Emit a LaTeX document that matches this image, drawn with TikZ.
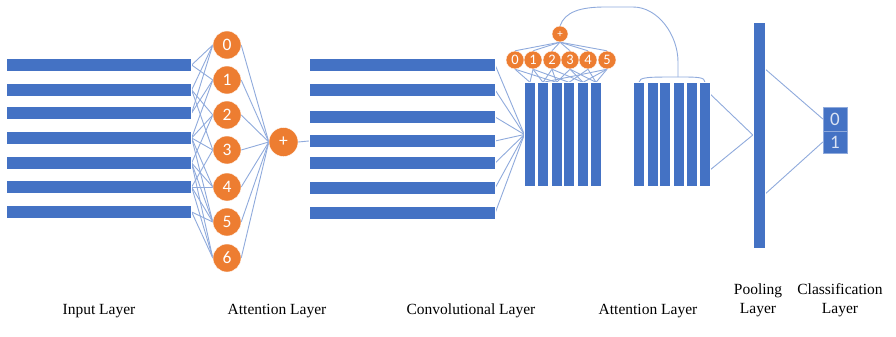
\documentclass[tikz,border=0pt]{standalone}
\usepackage{fontspec}
\setmainfont{Liberation Serif}
\newfontfamily\digitfont{Carlito}
\usetikzlibrary{calc}
\definecolor{barblue}{HTML}{4472C4}
\definecolor{orng}{HTML}{ED7D31}
\definecolor{lnblue}{HTML}{8FAADC}
\definecolor{celltext}{HTML}{DAE3F3}
\pgfdeclarelayer{background}
\pgfsetlayers{background,main}
\begin{document}
\begin{tikzpicture}[x=1pt,y=-1pt,
  hbar/.style={rectangle, fill=barblue, draw=white, line width=0.3pt, minimum width=185pt, minimum height=13pt, inner sep=0pt},
  vbar/.style={rectangle, fill=barblue, draw=white, line width=0.3pt, minimum width=11pt, minimum height=104pt, inner sep=0pt},
  bigc/.style={circle, fill=orng, draw=white, line width=0.4pt, minimum size=28pt, inner sep=0pt, text=white, font=\digitfont\fontsize{17.5}{17.5}\selectfont},
  smallc/.style={circle, fill=orng, draw=white, line width=0.4pt, minimum size=18pt, inner sep=0pt, text=white, font=\digitfont\fontsize{14.5}{14.5}\selectfont},
  cell/.style={rectangle, fill=barblue, draw=lnblue, line width=0.4pt, minimum width=24pt, minimum height=23pt, inner sep=0pt, text=celltext, font=\digitfont\fontsize{19}{19}\selectfont},
  conn/.style={draw=lnblue, line width=0.9pt},
  lbl/.style={font=\fontsize{15.5}{19}\selectfont, align=center, anchor=base},
]
\useasboundingbox (0,0) rectangle (896,337);

% input bars
\foreach \i/\y in {0/65,1/90,2/113,3/138,4/163,5/187,6/212}
  \node[hbar] (in\i) at (99,\y) {};
% attention circles
\foreach \i/\y in {0/45,1/80,2/115,3/150,4/187,5/222,6/258}
  \node[bigc] (at\i) at (227,\y) {\i};
\node[bigc, minimum size=29pt] (plus) at (283.5,142) {+};
% conv bars
\foreach \i/\y in {0/65,1/90,2/117,3/141,4/163,5/188,6/213}
  \node[hbar, minimum width=186pt] (cv\i) at (402,\y) {};
% conv vertical bars
\foreach \i/\x in {0/530,1/543,2/556.5,3/569,4/583,5/596}
  \node[vbar] (va\i) at (\x,134.5) {};
% small attention circles
\foreach \i/\x in {0/515,1/533,2/552,3/570,4/588,5/607}
  \node[smallc] (sc\i) at (\x,60) {\i};
\node[smallc, minimum size=16pt, font=\digitfont\fontsize{11}{11}\selectfont] (sp) at (560,34) {+};
% second attention bars
\foreach \i/\x in {0/639,1/653,2/665,3/679,4/692,5/705}
  \node[vbar] (vb\i) at (\x,134.5) {};
% pooling bar
\node[rectangle, fill=barblue, draw=white, line width=0.3pt, minimum width=12pt, minimum height=226pt, inner sep=0pt] (pool) at (759,135) {};
% classification cells
\node[cell, minimum height=24pt] (cl0) at (835,119) {0};
\node[cell, minimum height=22pt] (cl1) at (835,142) {1};

\coordinate (bt) at (678,77);

\begin{pgfonlayer}{background}
  % input -> attention
  \foreach \b/\c in {0/0,0/1,1/0,1/2,1/3,2/0,2/1,3/1,3/2,3/3,3/4,3/5,4/2,4/4,4/5,4/6,5/3,5/4,5/5,5/6,6/5,6/6}
    \draw[conn] (in\b.east) -- (at\c.west);
  % attention -> plus
  \foreach \c in {0,...,6}
    \draw[conn] (at\c.east) -- (plus.west);
  \draw[conn] (plus.east) -- (cv3.west);
  % conv -> vertical bars
  \foreach \b in {0,...,6}
    \draw[conn] (cv\b.east) -- (va0.west);
  % small plus -> small circles
  \foreach \c in {0,...,5}
    \draw[conn] (sp.south) -- (sc\c.north);
  % small circles -> vertical bars
  \foreach \c/\v in {0/0,0/2,1/0,1/1,1/3,2/1,2/2,2/4,3/2,3/4,3/5,4/3,4/5,5/4,5/5,5/1}
    \draw[conn] (sc\c.south) -- (va\v.north);
  % feedback curve
  \draw[conn] (sp.north) .. controls (565,12) and (580,7) .. (605,7) -- (633,7)
      .. controls (658,7) and (678,35) .. (678,62) -- (bt);
  \draw[conn] (vb0.north) .. controls (639,77) and (648,77) .. (bt)
      .. controls (698,77) and (705,77) .. (vb5.north);
  % second attention -> pooling
  \draw[conn] ([yshift=40pt]vb5.east) -- (pool.west);
  \draw[conn] ([yshift=-35pt]vb5.east) -- (pool.west);
  % pooling -> classification
  \draw[conn] ([yshift=66pt]pool.east) -- (cl0.west);
  \draw[conn] ([yshift=-59pt]pool.east) -- (cl1.west);
\end{pgfonlayer}

% labels
\node[lbl] (l1) at (99,314) {Input Layer};
\node[lbl] (l2) at (277,314) {Attention Layer};
\node[lbl] (l3) at (471,314) {Convolutional Layer};
\node[lbl] (l4) at (648,314) {Attention Layer};
\node[lbl, anchor=base] (l5) at (758,313) {Pooling\\Layer};
\node[lbl, anchor=base] (l6) at (840,313) {Classification\\Layer};
\end{tikzpicture}
\end{document}
